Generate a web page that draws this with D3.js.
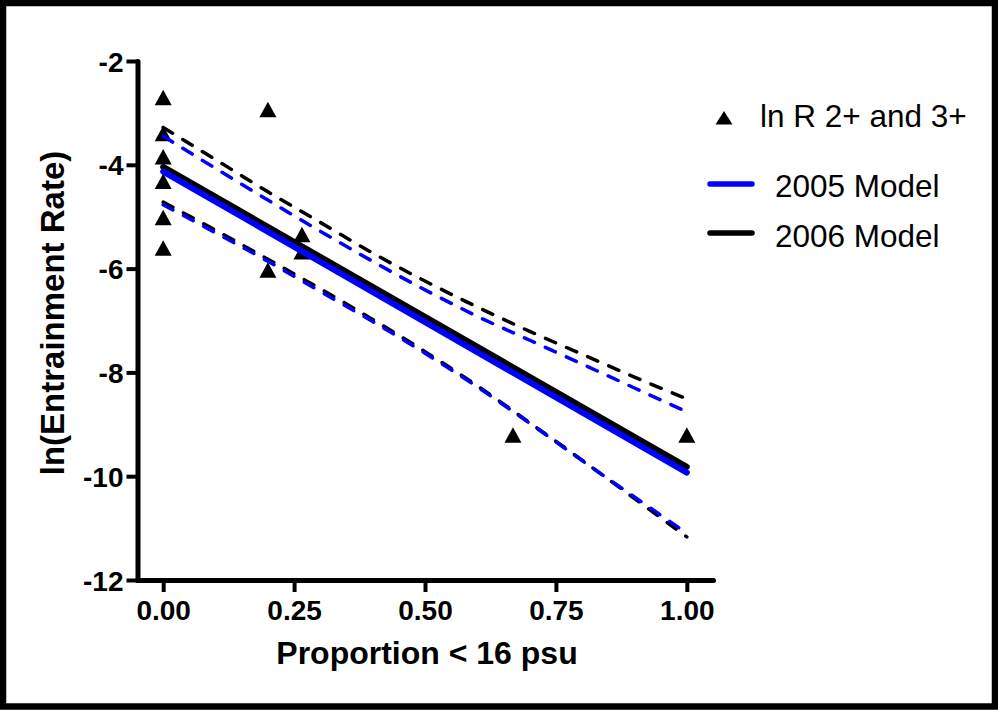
<!DOCTYPE html>
<html><head><meta charset="utf-8">
<script src="https://cdn.jsdelivr.net/npm/d3@7"></script>
<style>body{margin:0;background:#fff}svg{display:block}</style>
</head><body>
<svg id="c" width="998" height="710"></svg>
<script>
// ---- data ----
const xTicks = [0, 0.25, 0.5, 0.75, 1.0];
const yTicks = [-12, -10, -8, -6, -4, -2];
const pointX = [0, 0, 0, 0, 0, 0, 0.2, 0.2, 0.265, 0.265, 0.668, 1.0];
const pointY = [-2.71, -3.40, -3.85, -4.32, -5.02, -5.61, -2.94, -6.03, -5.35, -5.68, -9.21, -9.21];
const modelX = [0, 1];
const model2005 = [-4.13, -9.93];
const model2006 = [-4.04, -9.82];
const bandX = [0, 0.1, 0.2, 0.3, 0.4, 0.5, 0.6, 0.7, 0.8, 0.9, 1.0];
const upper2005 = [-3.45, -4.07, -4.68, -5.28, -5.86, -6.41, -6.92, -7.38, -7.84, -8.30, -8.76];
const lower2005 = [-4.77, -5.31, -5.86, -6.44, -7.02, -7.63, -8.28, -8.98, -9.70, -10.40, -11.10];
const upper2006 = [-3.28, -3.90, -4.52, -5.11, -5.70, -6.24, -6.74, -7.21, -7.65, -8.09, -8.51];
const lower2006 = [-4.72, -5.26, -5.82, -6.39, -6.98, -7.60, -8.26, -8.97, -9.69, -10.43, -11.17];
const legendLabels = ["ln R 2+ and 3+", "2005 Model", "2006 Model"];
const xTitle = "Proportion < 16 psu";
const yTitle = "ln(Entrainment Rate)";

// ---- drawing ----
const svg = d3.select("#c");
const FONT = "'Liberation Sans', Arial, sans-serif";
const BLUE = "#0000ff";

svg.append("rect").attr("x", 3).attr("y", 3).attr("width", 992).attr("height", 703.5)
  .attr("fill", "#fff").attr("stroke", "#000").attr("stroke-width", 6.5);

const x = d3.scaleLinear().domain([-0.05, 1.05]).range([137, 713]);
const y = d3.scaleLinear().domain([-12, -2]).range([580, 61]);

// axes
const yAxis = svg.append("g").attr("transform", "translate(137.5,0)")
  .call(d3.axisLeft(y).tickValues(yTicks).tickSizeInner(11).tickSizeOuter(0).tickPadding(3)
    .tickFormat(d => String(d)));
const xAxis = svg.append("g").attr("transform", "translate(0,580)")
  .call(d3.axisBottom(x).tickValues(xTicks).tickSizeInner(12).tickSizeOuter(0).tickPadding(8)
    .tickFormat(d3.format(".2f")));
[yAxis, xAxis].forEach(g => {
  g.select(".domain").attr("stroke", "#000").attr("stroke-width", 5).attr("stroke-linecap", "round");
  g.selectAll(".tick line").attr("stroke", "#000").attr("stroke-width", 4);
  g.selectAll(".tick text").attr("fill", "#000").attr("font-family", FONT)
    .attr("font-weight", "bold").attr("font-size", 28);
});
yAxis.selectAll(".tick text").attr("dy", "0.36em");

// titles
svg.append("text").attr("x", 427).attr("y", 664).attr("text-anchor", "middle")
  .attr("font-family", FONT).attr("font-weight", "bold").attr("font-size", 32).text(xTitle);
svg.append("text").attr("transform", "translate(64,313) rotate(-90)").attr("text-anchor", "middle")
  .attr("font-family", FONT).attr("font-weight", "bold").attr("font-size", 33).text(yTitle);

// triangle marker path (centered on bounding box)
const tri = "M0,-8L8.5,7.5L-8.5,7.5Z";
svg.append("g").selectAll("path").data(pointX.map((d, i) => [d, pointY[i]])).join("path")
  .attr("d", tri).attr("fill", "#000")
  .attr("transform", d => `translate(${x(d[0])},${y(d[1])})`);

const line = d3.line().x(d => x(d[0])).y(d => y(d[1])).curve(d3.curveMonotoneX);
function band(vals, color) {
  svg.append("path").datum(bandX.map((d, i) => [d, vals[i]])).attr("d", line)
    .attr("fill", "none").attr("stroke", color).attr("stroke-width", 3.5)
    .attr("stroke-dasharray", "11,12").attr("stroke-linecap", "round");
}
function solid(vals, color) {
  svg.append("path").datum(modelX.map((d, i) => [d, vals[i]])).attr("d", d3.line().x(d => x(d[0])).y(d => y(d[1])))
    .attr("fill", "none").attr("stroke", color).attr("stroke-width", 6).attr("stroke-linecap", "round");
}
band(upper2006, "#000"); band(lower2006, "#000");
solid(model2006, "#000");
band(upper2005, BLUE); band(lower2005, BLUE);
solid(model2005, BLUE);

// legend
const lg = svg.append("g");
lg.append("path").attr("d", "M0,-7L8.5,6.5L-8.5,6.5Z").attr("transform", "translate(724,118)").attr("fill", "#000");
lg.append("line").attr("x1", 710).attr("x2", 752).attr("y1", 184).attr("y2", 184)
  .attr("stroke", BLUE).attr("stroke-width", 5.5).attr("stroke-linecap", "round");
lg.append("line").attr("x1", 710).attr("x2", 752).attr("y1", 233).attr("y2", 233)
  .attr("stroke", "#000").attr("stroke-width", 5.5).attr("stroke-linecap", "round");
const ly = [127, 197, 247], lx = [760, 775, 775];
legendLabels.forEach((t, i) => {
  lg.append("text").attr("x", lx[i]).attr("y", ly[i]).attr("font-family", FONT)
    .attr("font-size", 31.5).attr("fill", "#000").text(t);
});
</script>
</body></html>
